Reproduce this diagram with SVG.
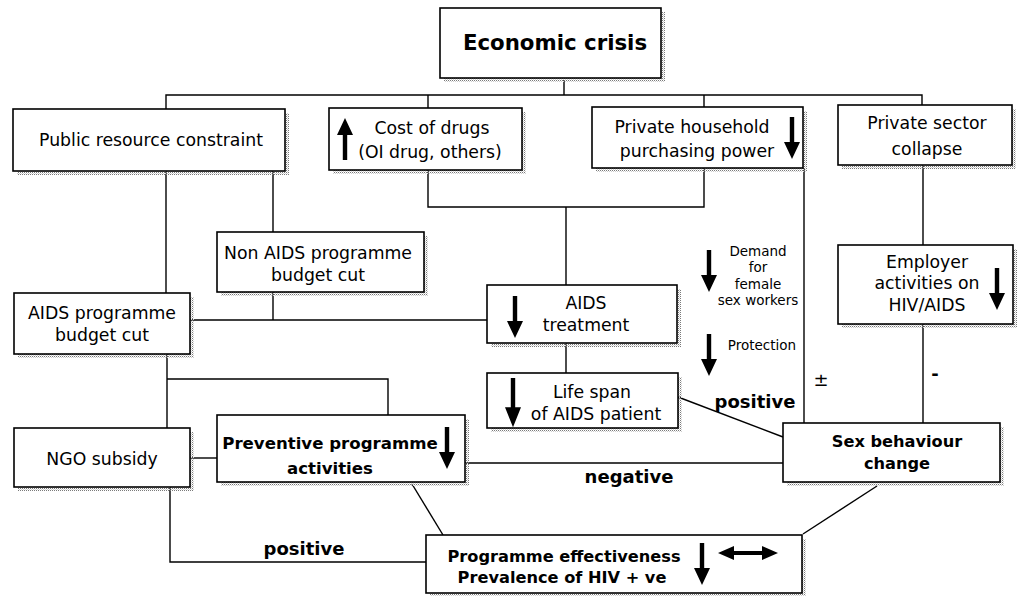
<svg xmlns="http://www.w3.org/2000/svg" xmlns:xlink="http://www.w3.org/1999/xlink" width="1022" height="596" viewBox="0 0 1022 596">
<defs>
<pattern id="dots" width="2" height="2" patternUnits="userSpaceOnUse"><rect width="1" height="1" fill="#7a7a7a"/><rect x="1" y="1" width="1" height="1" fill="#d0d0d0"/></pattern>
<path id="dn" d="M-2.2,0 H2.2 V25 H8 L0,42 L-8,25 H-2.2 Z" fill="#000"/>
<style>
.box{fill:#fff;stroke:#000;stroke-width:1.6}
.sh{fill:url(#dots);stroke:none}
.ln{fill:none;stroke:#000;stroke-width:1.4}
text{font-family:"DejaVu Sans","Open Sans",sans-serif;fill:#000;text-anchor:middle}
.t{font-size:17.3px}
.b{font-size:16.2px;font-weight:bold}
.l{font-size:18px;font-weight:bold}
.s{font-size:13.5px}
</style>
</defs>
<rect width="1022" height="596" fill="#fff"/>

<g id="connectors">
<polyline class="ln" points="564,80 564,95"/>
<polyline class="ln" points="166,109 166,95 922,95 922,105"/>
<polyline class="ln" points="428,95 428,108"/>
<polyline class="ln" points="704,95 704,107"/>
<polyline class="ln" points="428,170 428,207 704,207 704,168"/>
<polyline class="ln" points="566,207 566,285"/>
<polyline class="ln" points="804,168 804,423"/>
<polyline class="ln" points="923,165 923,245"/>
<polyline class="ln" points="923,324 923,423"/>
<polyline class="ln" points="166,171 166,293"/>
<polyline class="ln" points="273,171 273,232"/>
<polyline class="ln" points="273,292 273,320"/>
<polyline class="ln" points="190,320 487,320"/>
<polyline class="ln" points="566,343 566,373"/>
<polyline class="ln" points="678,397 783,437"/>
<polyline class="ln" points="167,354 167,428"/>
<polyline class="ln" points="167,379 388,379 388,415"/>
<polyline class="ln" points="190,458 217,458"/>
<polyline class="ln" points="465,463 783,463"/>
<polyline class="ln" points="412,484 443,535"/>
<polyline class="ln" points="877,486 803,534"/>
<polyline class="ln" points="170,487 170,562 426,562"/>
<text class="l" x="629" y="483">negative</text>
<text class="l" x="755" y="408">positive</text>
<text class="l" x="304" y="555">positive</text>
<text x="821" y="386" style="font-size:18px">±</text>
<text x="935" y="380" style="font-size:18px;font-weight:bold">-</text>
<use xlink:href="#dn" href="#dn" transform="translate(709,250)"/>
<text class="s"><tspan x="758" y="256">Demand</tspan><tspan x="758" y="272">for</tspan><tspan x="758" y="289">female</tspan><tspan x="758" y="305">sex workers</tspan></text>
<use xlink:href="#dn" href="#dn" transform="translate(709,334)"/>
<text class="s" x="762" y="350">Protection</text>
</g>

<g id="economic-crisis">
<rect class="sh" x="444" y="12" width="221" height="70"/>
<rect class="box" x="440" y="8" width="221" height="70"/>
<text x="555" y="50" style="font-size:21.3px;font-weight:bold">Economic crisis</text>
</g>

<g id="public-resource">
<rect class="sh" x="17" y="113" width="272" height="62"/>
<rect class="box" x="13" y="109" width="272" height="62"/>
<text class="t" x="151" y="146">Public resource constraint</text>
</g>

<g id="cost-of-drugs">
<rect class="sh" x="333" y="112" width="193" height="62"/>
<rect class="box" x="329" y="108" width="193" height="62"/>
<use xlink:href="#dn" href="#dn" transform="translate(345,160) scale(1,-1)"/>
<text class="t"><tspan x="432" y="134">Cost of drugs</tspan><tspan x="430" y="158">(OI drug, others)</tspan></text>
</g>

<g id="household">
<rect class="sh" x="596" y="111" width="211" height="61"/>
<rect class="box" x="592" y="107" width="211" height="61"/>
<use xlink:href="#dn" href="#dn" transform="translate(792,117)"/>
<text class="t"><tspan x="692" y="133">Private household</tspan><tspan x="697" y="157">purchasing power</tspan></text>
</g>

<g id="private-sector">
<rect class="sh" x="842" y="109" width="174" height="60"/>
<rect class="box" x="838" y="105" width="174" height="60"/>
<text class="t"><tspan x="927" y="129">Private sector</tspan><tspan x="927" y="155">collapse</tspan></text>
</g>

<g id="non-aids">
<rect class="sh" x="221" y="236" width="207" height="60"/>
<rect class="box" x="217" y="232" width="207" height="60"/>
<text class="t"><tspan x="318" y="259">Non AIDS programme</tspan><tspan x="318" y="281">budget cut</tspan></text>
</g>

<g id="employer">
<rect class="sh" x="842" y="249" width="175" height="79"/>
<rect class="box" x="838" y="245" width="175" height="79"/>
<use xlink:href="#dn" href="#dn" transform="translate(997,268)"/>
<text class="t"><tspan x="927" y="268">Employer</tspan><tspan x="927" y="289">activities on</tspan><tspan x="927" y="311">HIV/AIDS</tspan></text>
</g>

<g id="aids-budget">
<rect class="sh" x="18" y="297" width="176" height="61"/>
<rect class="box" x="14" y="293" width="176" height="61"/>
<text class="t"><tspan x="102" y="319">AIDS programme</tspan><tspan x="102" y="341">budget cut</tspan></text>
</g>

<g id="aids-treatment">
<rect class="sh" x="491" y="289" width="190" height="58"/>
<rect class="box" x="487" y="285" width="190" height="58"/>
<use xlink:href="#dn" href="#dn" transform="translate(515,296)"/>
<text class="t"><tspan x="586" y="309">AIDS</tspan><tspan x="586" y="331">treatment</tspan></text>
</g>

<g id="life-span">
<rect class="sh" x="491" y="377" width="191" height="55"/>
<rect class="box" x="487" y="373" width="191" height="55"/>
<use xlink:href="#dn" href="#dn" transform="translate(513,378) scale(1,1.17)"/>
<text class="t"><tspan x="592" y="398">Life span</tspan><tspan x="596" y="420">of AIDS patient</tspan></text>
</g>

<g id="ngo">
<rect class="sh" x="18" y="432" width="176" height="59"/>
<rect class="box" x="14" y="428" width="176" height="59"/>
<text class="t" x="102" y="465">NGO subsidy</text>
</g>

<g id="preventive">
<rect class="sh" x="221" y="419" width="248" height="67"/>
<rect class="box" x="217" y="415" width="248" height="67"/>
<use xlink:href="#dn" href="#dn" transform="translate(447,427)"/>
<text class="b" style="font-size:16.6px"><tspan x="330" y="449">Preventive programme</tspan><tspan x="330" y="474">activities</tspan></text>
</g>

<g id="sex-behaviour">
<rect class="sh" x="787" y="427" width="217" height="59"/>
<rect class="box" x="783" y="423" width="217" height="59"/>
<text class="b"><tspan x="897" y="447">Sex behaviour</tspan><tspan x="897" y="469">change</tspan></text>
</g>

<g id="programme-effectiveness">
<rect class="sh" x="430" y="539" width="376" height="58"/>
<rect class="box" x="426" y="535" width="376" height="58"/>
<text class="b"><tspan x="564" y="562">Programme effectiveness</tspan><tspan x="562" y="583">Prevalence of HIV + ve</tspan></text>
<use xlink:href="#dn" href="#dn" transform="translate(702,543)"/>
<path d="M718,553 L734,546 V551 H762 V546 L778,553 L762,560 V555 H734 V560 Z" fill="#000"/>
</g>
</svg>
